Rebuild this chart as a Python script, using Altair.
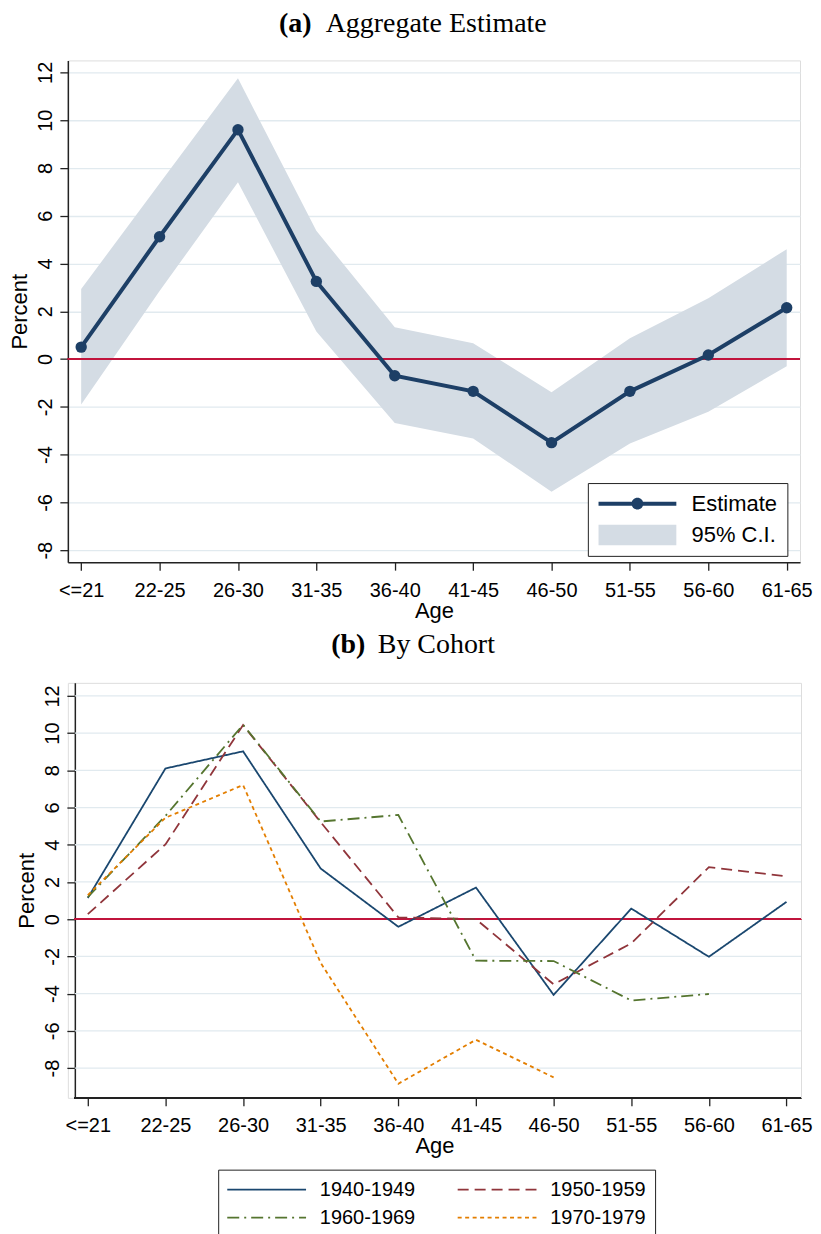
import altair as alt
import pandas as pd

# ---------------- data ----------------
ages = ["<=21", "22-25", "26-30", "31-35", "36-40", "41-45", "46-50", "51-55", "56-60", "61-65"]

estimate = [0.50, 5.12, 9.60, 3.25, -0.70, -1.35, -3.50, -1.35, 0.17, 2.15]
ci_upper = [2.93, 7.35, 11.75, 5.37, 1.33, 0.66, -1.39, 0.87, 2.54, 4.60]
ci_lower = [-1.90, 2.85, 7.40, 1.15, -2.68, -3.32, -5.55, -3.53, -2.20, -0.30]
legend_a = ["Estimate", "95% C.I."]

cohorts = ["1940-1949", "1950-1959", "1960-1969", "1970-1979"]
c1940 = [1.14, 8.10, 9.02, 2.72, -0.41, 1.70, -4.07, 0.57, -2.02, 0.93]
c1950 = [0.27, 4.02, 10.43, 5.21, 0.10, 0.00, -3.50, -1.30, 2.80, 2.30]
c1960 = [1.19, 5.55, 10.45, 5.25, 5.60, -2.23, -2.25, -4.37, -4.02, None]
c1970 = [1.29, 5.45, 7.21, -2.35, -8.84, -6.48, -8.50, None, None, None]

y_ticks = [-8, -6, -4, -2, 0, 2, 4, 6, 8, 10, 12]
x_title = "Age"
y_title = "Percent"
title_a = ["(a)", "Aggregate Estimate"]
title_b = ["(b)", "By Cohort"]

# ---------------- style ----------------
NAVY = "#1d3f66"
CI = "#d4dce4"
RED = "#c0143c"
GRID = "#e1eaef"
AX = "#222222"
LINE_COLORS = ["#1a476f", "#90353b", "#55752f", "#e37e00"]
DASHES = [[1, 0], [11, 6], [12, 5, 2, 5], [4, 3.5]]
SANS = "Liberation Sans"
SERIF = "Liberation Serif"

# legend symbols (unit = 10 px with symbolSize 400)
EST_PATH = ("M-3.9,-0.2H3.9V0.2H-3.9Z "
            "M0.585,0A0.585,0.585 0 1,1 -0.585,0A0.585,0.585 0 1,1 0.585,0Z")
RECT_PATH = "M-3.9,-1.03H3.9V1.03H-3.9Z"
STROKE_PATH = "M-3.95,0H3.95"

top_df = pd.DataFrame({"age": ages, "est": estimate, "lo": ci_lower, "hi": ci_upper})
rows = []
for name, vals in zip(cohorts, [c1940, c1950, c1960, c1970]):
    for a, v in zip(ages, vals):
        if v is not None:
            rows.append({"age": a, "cohort": name, "val": v})
bot_df = pd.DataFrame(rows)
grid_df = pd.DataFrame({"v": [t for t in y_ticks if t != 0]})

W_A, H_A = 734, 503
W_B, H_B = 735, 416
SHIFT_B = 7  # panel (b) axis sits 7px inside its plot box


def x_enc(padding, align=0.5, domain=True):
    return alt.X(
        "age:N", sort=ages,
        scale=alt.Scale(type="point", padding=padding, align=align, domain=ages),
        axis=alt.Axis(
            title=x_title, labelAngle=0, labelFont=SANS, labelFontSize=20,
            labelColor="black", labelPadding=10, tickSize=8, tickColor=AX,
            tickWidth=1.3, domain=domain, domainColor=AX, domainWidth=1.5,
            titleFont=SANS, titleFontSize=22, titleFontWeight="normal",
            titleColor="black", titlePadding=0, grid=False, labelOverlap=False,
        ),
    )


def y_axis(offset=0, grid=True):
    return alt.Axis(
        values=y_ticks, title=y_title, labelAngle=270, labelAlign="center",
        labelBaseline="alphabetic", labelFont=SANS, labelFontSize=20,
        labelColor="black", labelPadding=8, tickSize=8, tickColor=AX,
        tickWidth=1.3, domainColor=AX, domainWidth=1.5, grid=grid,
        gridColor=GRID, gridWidth=1.3, titleFont=SANS, titleFontSize=22,
        titleFontWeight="normal", titleColor="black", titlePadding=4,
        labelExpr="'' + datum.value", offset=offset,
    )


def title_layers(parts, x_bold, x_rest, y):
    d = pd.DataFrame({"a": [parts[0]], "b": [parts[1]]})
    t1 = alt.Chart(d).mark_text(
        font=SERIF, fontSize=28, fontWeight="bold", align="right",
        baseline="alphabetic", color="black"
    ).encode(text="a:N", x=alt.value(x_bold), y=alt.value(y))
    t2 = alt.Chart(d).mark_text(
        font=SERIF, fontSize=28, align="left", baseline="alphabetic", color="black"
    ).encode(text="b:N", x=alt.value(x_rest), y=alt.value(y))
    return [t1, t2]


# ---------------- panel (a) ----------------
ya = alt.Scale(domain=[-8.5, 12.5], nice=False, zero=False)
base_a = alt.Chart(top_df)
xa = x_enc(0.17)

band = base_a.mark_area(color=CI, opacity=1).encode(
    x=xa, y=alt.Y("lo:Q", scale=ya, axis=y_axis()), y2="hi:Q")
zero_a = base_a.mark_rule(color=RED, strokeWidth=1.5).encode(y=alt.datum(0))
line_a = base_a.mark_line(color=NAVY, strokeWidth=4).encode(x=xa, y=alt.Y("est:Q", scale=ya))
pts_a = base_a.mark_point(filled=True, color=NAVY, opacity=1, size=130).encode(
    x=xa, y=alt.Y("est:Q", scale=ya))

leg_a = alt.Legend(
    orient="none", legendX=521.3, legendY=423.7, title=None, padding=9.7,
    rowPadding=9.3, labelOffset=43.3, symbolOffset=29, labelFont=SANS,
    labelFontSize=22, labelColor="black", symbolSize=400, symbolStrokeWidth=0,
    strokeColor=AX, fillColor="white", symbolOpacity=1,
)
legend_dummy = alt.Chart(pd.DataFrame({"series": legend_a})).mark_point(
    filled=True, opacity=1, size=0
).encode(
    color=alt.Color("series:N", scale=alt.Scale(domain=legend_a, range=[NAVY, CI]), legend=leg_a),
    shape=alt.Shape("series:N", scale=alt.Scale(domain=legend_a, range=[EST_PATH, RECT_PATH]), legend=leg_a),
)

top = alt.layer(
    band, zero_a, line_a, pts_a, legend_dummy,
    *title_layers(title_a, 244.3, 258.5, -28),
).properties(width=W_A, height=H_A)

# ---------------- panel (b) ----------------
yb = alt.Scale(domain=[-9.6, 12.7], nice=False, zero=False)
base_b = alt.Chart(bot_df)
xb = x_enc(0.222, align=0.579, domain=False)

leg_b = alt.Legend(
    orient="none", legendX=150.7, legendY=488, direction="horizontal", columns=2,
    title=None, padding=9, rowPadding=7, columnPadding=38, labelOffset=42.3,
    symbolOffset=28.6, labelFont=SANS, labelFontSize=20, labelColor="black",
    symbolSize=400, symbolStrokeWidth=1.8, symbolType=STROKE_PATH,
    strokeColor=AX, fillColor="white",
)
grid_b = alt.Chart(grid_df).mark_rule(color=GRID, strokeWidth=1.3).encode(
    y=alt.Y("v:Q", scale=yb, axis=y_axis(offset=-SHIFT_B, grid=False)),
    x=alt.value(SHIFT_B), x2=alt.value(W_B))
zero_b = base_b.mark_rule(color=RED, strokeWidth=1.5).encode(
    y=alt.datum(0), x=alt.value(SHIFT_B), x2=alt.value(W_B))
xline_b = base_b.mark_rule(color=AX, strokeWidth=1.5).encode(
    y=alt.value(H_B + 0.5), x=alt.value(SHIFT_B - 0.75), x2=alt.value(W_B))
lines_b = base_b.mark_line(strokeWidth=1.8).encode(
    x=xb,
    y=alt.Y("val:Q", scale=yb),
    color=alt.Color("cohort:N", scale=alt.Scale(domain=cohorts, range=LINE_COLORS), legend=leg_b),
    strokeDash=alt.StrokeDash("cohort:N", scale=alt.Scale(domain=cohorts, range=DASHES), legend=leg_b),
)

bottom = alt.layer(
    grid_b, zero_b, lines_b, xline_b,
    *title_layers(title_b, 298.3, 310.7, -30),
).properties(width=W_B, height=H_B)

chart = alt.vconcat(top, bottom, spacing=8).resolve_scale(
    color="independent", shape="independent", strokeDash="independent",
    x="independent", y="independent",
).resolve_legend(
    color="independent", shape="independent", strokeDash="independent",
).properties(
    padding={"left": 0, "top": 0, "right": 0, "bottom": 0}
).configure_view(stroke=None).configure(font=SANS)

chart.save("out.html", embed_options={"renderer": "svg", "actions": False})
